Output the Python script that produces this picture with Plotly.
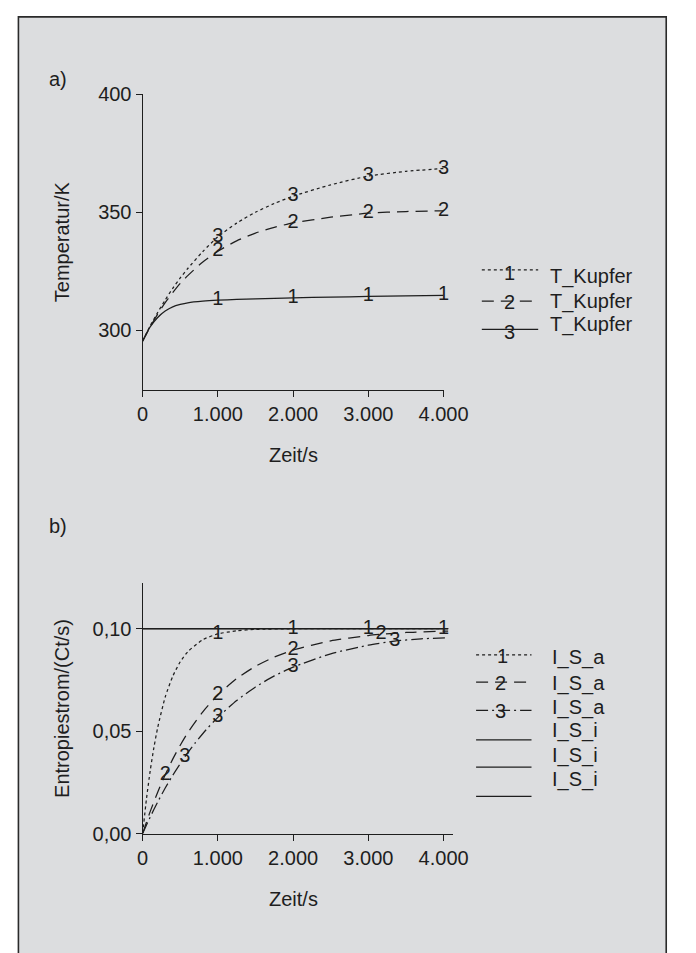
import plotly.graph_objects as go

W, H = 696, 953

# ---------- a) copper temperature over time ----------
t_a = [0, 100, 200, 300, 400, 500, 600, 800, 1000, 1250, 1500, 1750, 2000, 2500, 3000, 3500, 4000]
temp_1 = [295.5, 301.5, 305.5, 308.2, 310.0, 311.0, 311.7, 312.4, 312.8, 313.1, 313.4, 313.6, 313.8, 314.1, 314.4, 314.6, 314.8]
temp_2 = [295.5, 301.5, 306.9, 311.8, 316.0, 319.9, 323.2, 329.0, 333.5, 337.9, 341.2, 343.6, 345.5, 347.9, 349.6, 350.3, 350.6]
temp_3 = [295.5, 301.9, 307.6, 312.9, 317.8, 322.2, 326.2, 333.4, 339.6, 345.4, 350.0, 353.7, 356.8, 361.6, 365.3, 367.3, 368.5]
a_label_t = [1000, 2000, 3000, 4000]
a_yticks = [300, 350, 400]
a_xticks = [0, 1000, 2000, 3000, 4000]

# ---------- b) entropy flow over time ----------
t_b1 = [0, 50, 100, 150, 200, 300, 400, 500, 600, 800, 1000, 1250, 1500, 2000, 2500, 3000, 3500, 4000]
isa_1 = [0.0, 0.0166, 0.0305, 0.0420, 0.0517, 0.0666, 0.0767, 0.0838, 0.0887, 0.0946, 0.0974, 0.0989, 0.0996, 0.0999, 0.1, 0.1, 0.1, 0.1]
t_b2 = [0, 100, 200, 300, 400, 500, 600, 800, 1000, 1250, 1500, 1750, 2000, 2500, 3000, 3170, 3500, 4060]
isa_2 = [0.0, 0.0107, 0.0202, 0.0287, 0.0363, 0.0431, 0.0492, 0.0594, 0.0676, 0.0756, 0.0816, 0.0861, 0.0895, 0.0940, 0.0966, 0.0972, 0.0981, 0.0988]
t_b3 = [0, 100, 200, 300, 400, 560, 700, 850, 1000, 1250, 1500, 1750, 2000, 2500, 3000, 3350, 3700, 4060]
isa_3 = [0.0, 0.0080, 0.0154, 0.0222, 0.0284, 0.0374, 0.0443, 0.0509, 0.0567, 0.0649, 0.0715, 0.0769, 0.0812, 0.0877, 0.0919, 0.0939, 0.0950, 0.0955]
t_bi = [0, 4060]
isi = [0.10, 0.10]
b_label_t1 = [1000, 2000, 3000, 4000]
b_label_t2 = [300, 1000, 2000, 3170]
b_label_t3 = [560, 1000, 2000, 3350]
b_yticks = [0.0, 0.05, 0.10]
b_xticks = [0, 1000, 2000, 3000, 4000]

INK = "#1e1e1e"
FONT = "Liberation Sans, Arial, sans-serif"
FS = 20
LW = 1.25
DOT = "3px,3px"
DASH = "12px,7px"
DASHDOT = "12px,4px,2px,4px"


def px(x):
    return x / W


def py(y):
    return 1 - y / H


def labels_at(ts, vs, wanted):
    return [t for t in wanted], [vs[ts.index(t)] for t in wanted]


fig = go.Figure()


def curve(ts, vs, dash, digit, wanted, xa, ya, name):
    fig.add_trace(go.Scatter(x=ts, y=vs, mode="lines", name=name, xaxis=xa, yaxis=ya,
                             line=dict(color=INK, width=LW, dash=dash, shape="spline", smoothing=0.6),
                             showlegend=False, hoverinfo="skip"))
    if digit:
        lx, ly = labels_at(ts, vs, wanted)
        fig.add_trace(go.Scatter(x=lx, y=ly, mode="text", text=[digit] * len(lx), xaxis=xa, yaxis=ya,
                                 textposition="middle center", cliponaxis=False,
                                 textfont=dict(family=FONT, size=FS, color=INK),
                                 showlegend=False, hoverinfo="skip"))


# panel a)
curve(t_a, temp_1, "solid", "1", a_label_t, "x", "y", "T_Kupfer")
curve(t_a, temp_2, DASH, "2", a_label_t, "x", "y", "T_Kupfer")
curve(t_a, temp_3, DOT, "3", a_label_t, "x", "y", "T_Kupfer")

# panel b)
for _ in range(3):
    curve(t_bi, isi, "solid", None, [], "x2", "y2", "I_S_i")
curve(t_b1, isa_1, DOT, "1", b_label_t1, "x2", "y2", "I_S_a")
curve(t_b2, isa_2, DASH, "2", b_label_t2, "x2", "y2", "I_S_a")
curve(t_b3, isa_3, DASHDOT, "3", b_label_t3, "x2", "y2", "I_S_a")

axis_common = dict(showline=True, linecolor=INK, linewidth=LW, ticks="outside", ticklen=6,
                   tickwidth=LW, tickcolor=INK, showgrid=False, zeroline=False,
                   tickfont=dict(family=FONT, size=FS, color=INK), fixedrange=True)

# pixel frames of the two plot areas
a_x0, a_x1 = 143, 458
a_y_top, a_y_bot = 85, 387.5
b_x0, b_x1 = 143, 467.5
b_y_top, b_y_bot = 586, 842

fig.update_layout(
    width=W, height=H,
    margin=dict(l=0, r=0, t=0, b=0),
    paper_bgcolor="white",
    plot_bgcolor="rgba(0,0,0,0)",
    separators=",.",
    font=dict(family=FONT, size=FS, color=INK),
    xaxis=dict(domain=[px(a_x0), px(a_x1)], range=[0, 4000], tickvals=a_xticks, tickformat=",.0f",
               anchor="y", **axis_common),
    yaxis=dict(domain=[py(a_y_bot), py(a_y_top)], range=[275, 400], tickvals=a_yticks,
               anchor="x", **axis_common),
    xaxis2=dict(domain=[px(b_x0), px(b_x1)], range=[0, 4120], tickvals=b_xticks, tickformat=",.0f",
                anchor="y2", **axis_common),
    yaxis2=dict(domain=[py(b_y_bot), py(b_y_top)], range=[0, 0.122], tickvals=b_yticks, tickformat=".2f",
                anchor="x2", **axis_common),
)

shapes = [
    dict(type="rect", xref="paper", yref="paper", x0=px(13), x1=px(691), y0=py(6), y1=py(970),
         fillcolor="#dcdddf", line=dict(color="#2a2a2a", width=1.6), layer="below"),
]


def legend_line(x0, x1, y, dash):
    shapes.append(dict(type="line", xref="paper", yref="paper", x0=px(x0), x1=px(x1), y0=py(y), y1=py(y),
                       line=dict(color=INK, width=LW, dash=dash)))


annotations = []


def text(x, y, s, xanchor="center", angle=0):
    annotations.append(dict(xref="paper", yref="paper", x=px(x), y=py(y), text=s, showarrow=False,
                            xanchor=xanchor, yanchor="middle", textangle=angle,
                            font=dict(family=FONT, size=FS, color=INK)))


# panel letters
text(54, 70, "a)")
text(54, 527, "b)")

# axis titles
text(301, 455, "Zeit/s")
text(301, 909, "Zeit/s")
text(58, (a_y_top + a_y_bot) / 2, "Temperatur/K", angle=-90)
text(58, (b_y_top + b_y_bot) / 2, "Entropiestrom/(Ct/s)", angle=-90)

# legend a)
for (ly, dash, digit, dy, ty) in [(265, DOT, "1", 268, 272), (297, DASH, "2", 298, 297), (326, "solid", "3", 329, 321)]:
    legend_line(498, 557, ly, dash)
    text(527, dy, digit)
    text(567, ty, "T_Kupfer", xanchor="left")

# legend b)
for (ly, dash, digit, dx, dy) in [(659, DOT, "1", 520, 660), (687, DASH, "2", 518, 688), (716, DASHDOT, "3", 518, 717)]:
    legend_line(492, 550, ly, dash)
    text(dx, dy, digit)
for ly in [746, 774, 804]:
    legend_line(492, 550, ly, "solid")
for ty, s in zip([662, 688, 713, 737, 762, 787], ["I_S_a", "I_S_a", "I_S_a", "I_S_i", "I_S_i", "I_S_i"]):
    text(569, ty, s, xanchor="left")

fig.update_layout(shapes=shapes, annotations=annotations)

# the figure fills the page exactly: drop the default body margin and scrollbars
page_css = ("document.body.style.margin='0';"
            "document.body.style.overflow='hidden';"
            "document.documentElement.style.overflow='hidden';")
fig.write_html("out.html", post_script=page_css)
